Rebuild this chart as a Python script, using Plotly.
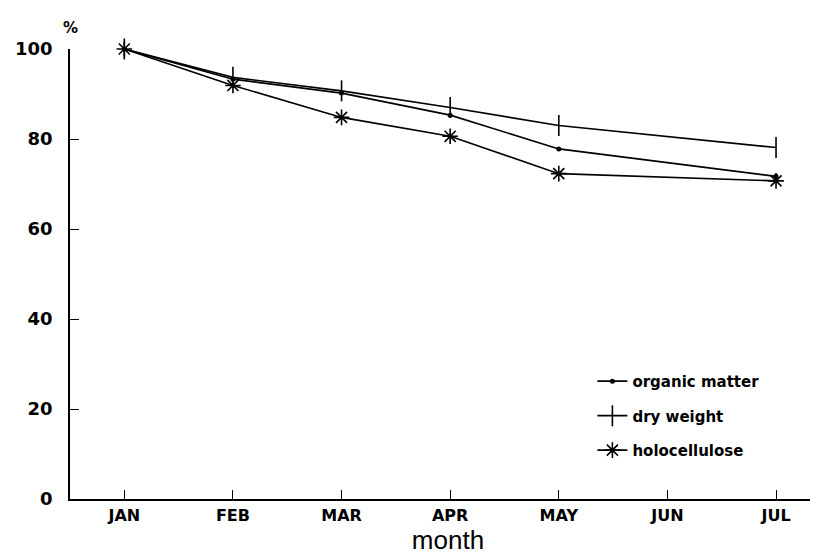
import plotly.graph_objects as go

months = ["JAN", "FEB", "MAR", "APR", "MAY", "JUN", "JUL"]
sample_months = ["JAN", "FEB", "MAR", "APR", "MAY", "JUL"]
organic_matter = [100, 93.3, 90.2, 85.3, 77.8, 71.7]
dry_weight = [100, 93.7, 90.7, 87.0, 83.0, 78.1]
holocellulose = [100, 91.9, 84.8, 80.6, 72.3, 70.7]
y_ticks = [0, 20, 40, 60, 80, 100]

month_idx = {m: i for i, m in enumerate(months)}
xs = [month_idx[m] for m in sample_months]

fig = go.Figure()
series = [
    ("organic matter", organic_matter, dict(symbol="circle", size=5, color="black")),
    ("dry weight", dry_weight, dict(symbol="line-ns-open", size=15, color="black",
                                     line=dict(color="black", width=1.6))),
    ("holocellulose", holocellulose, dict(symbol="asterisk-open", size=13, color="black",
                                           line=dict(color="black", width=1.6))),
]
for name, vals, mk in series:
    fig.add_trace(go.Scatter(
        x=xs, y=vals, name=name, mode="lines+markers",
        line=dict(color="black", width=1.6), marker=mk,
        cliponaxis=False, legendgroup=name,
    ))

fig.update_layout(
    width=818, height=555,
    margin=dict(l=62, r=0, t=41, b=64),
    paper_bgcolor="white", plot_bgcolor="white",
    showlegend=True,
    legend=dict(
        x=0.691, y=0.298, xanchor="left", yanchor="top",
        font=dict(family="DejaVu Sans", size=15, color="black", weight="bold"),
        traceorder="grouped", tracegroupgap=12, bgcolor="rgba(0,0,0,0)",
        itemwidth=30,
    ),
    xaxis=dict(
        range=[-0.5, 6.46], tickmode="array",
        tickvals=list(range(len(months))), ticktext=months,
        ticks="inside", ticklen=9, tickwidth=1.4, tickcolor="black",
        showline=True, linecolor="black", linewidth=1.6,
        showgrid=False, zeroline=False,
        tickfont=dict(family="DejaVu Sans", size=16, color="black", weight="bold"),
        ticklabelstandoff=1,
        title=dict(text="month", font=dict(family="Liberation Sans", size=26, color="black"),
                   standoff=4),
        automargin=False,
    ),
    yaxis=dict(
        range=[0, 100], tickmode="array", tickvals=y_ticks,
        ticks="inside", ticklen=9, tickwidth=1.4, tickcolor="black",
        showline=True, linecolor="black", linewidth=1.6,
        showgrid=False, zeroline=False,
        tickfont=dict(family="DejaVu Sans", size=18, color="black", weight="bold"),
        ticklabelstandoff=12,
        automargin=False,
    ),
    annotations=[dict(
        text="%", xref="paper", yref="paper", x=0, y=1, xanchor="center", yanchor="bottom",
        yshift=10, showarrow=False,
        font=dict(family="DejaVu Sans", size=15, color="black", weight="bold"),
    )],
)

fig.write_html("out.html")
